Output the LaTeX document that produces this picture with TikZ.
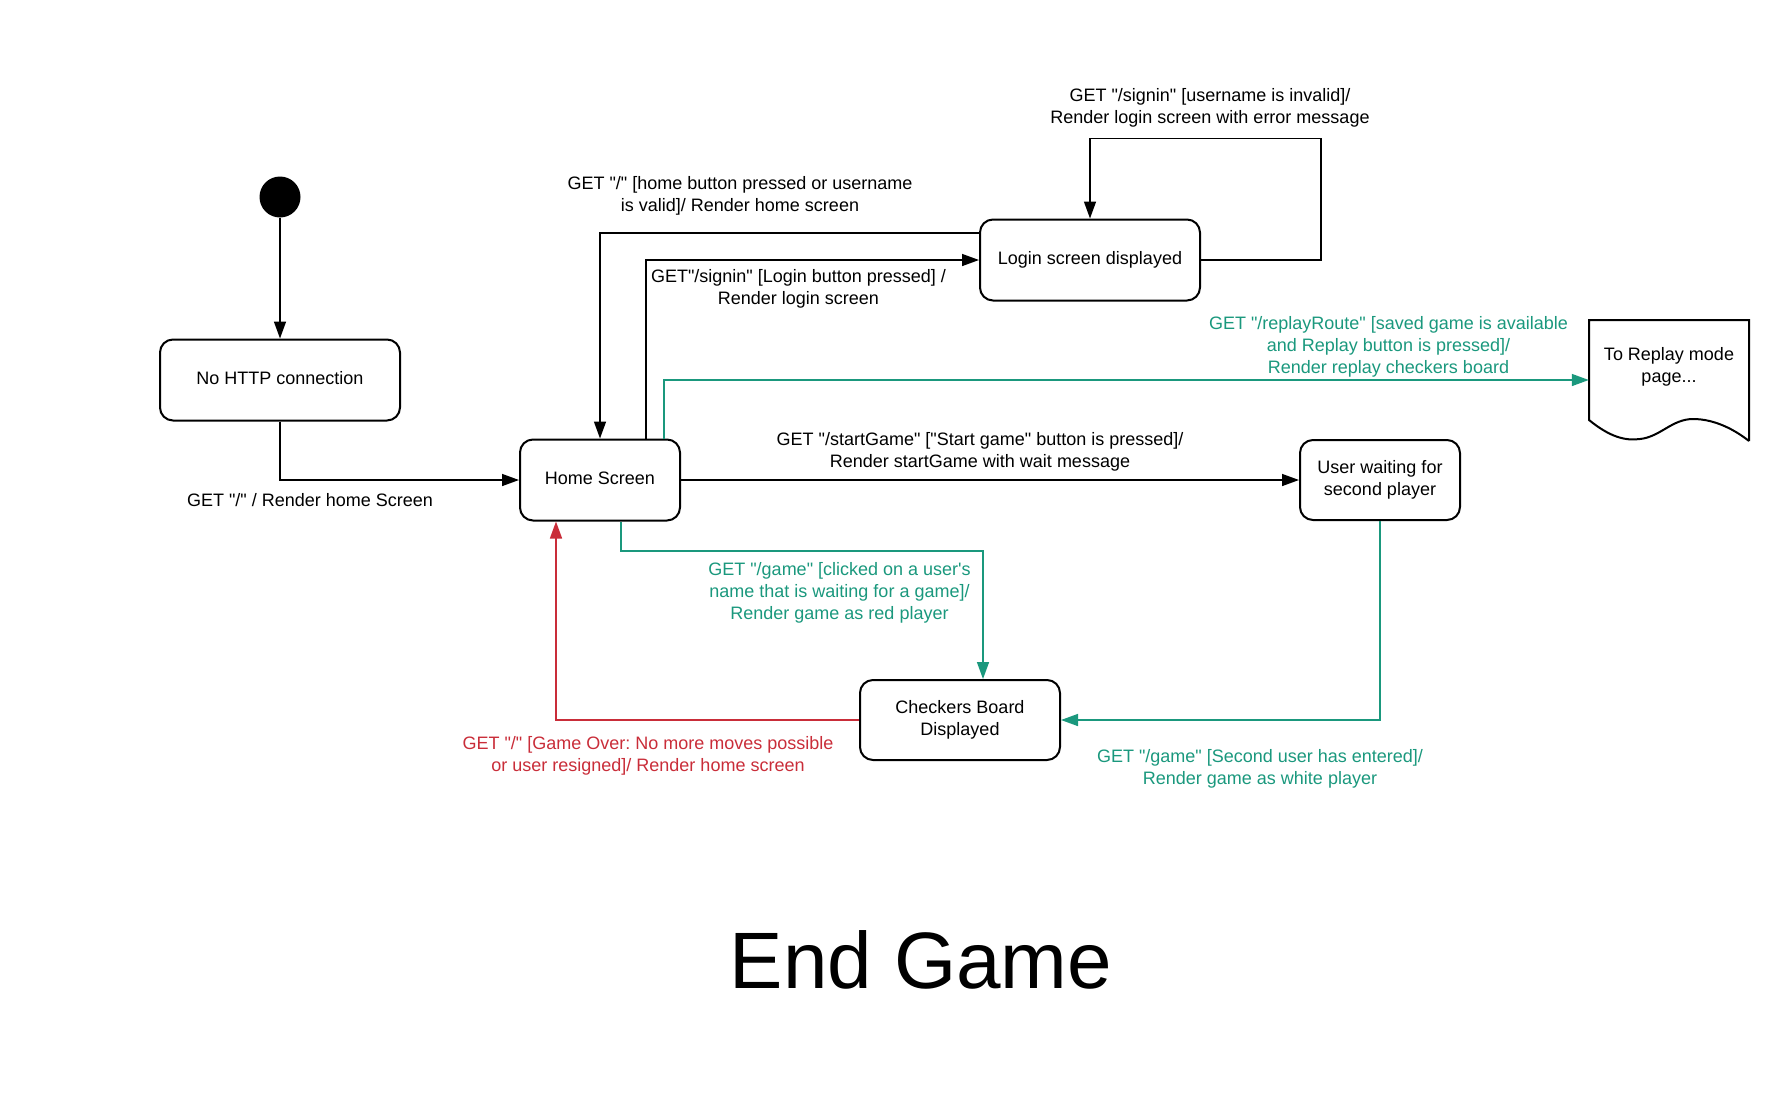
\documentclass[tikz,border=0pt]{standalone}
\usepackage{fontspec}
\setmainfont{Liberation Sans}[Ligatures=TeXOff]
\usetikzlibrary{arrows.meta}
\definecolor{lgreen}{RGB}{26,152,125}
\definecolor{lred}{RGB}{201,45,57}
\frenchspacing
\begin{document}
\begin{tikzpicture}[x=1pt,y=-1pt,
  statebox/.style={draw,line width=2pt,rounded corners=13pt,inner sep=0pt,align=center,
     font=\fontsize{18}{21.8}\selectfont},
  lbl/.style={inner sep=0pt,align=center,font=\fontsize{18}{21.8}\selectfont},
  conn/.style={line width=1.5pt,-{Triangle[length=17pt,width=12pt]}},
  gconn/.style={conn,draw=lgreen},
  rconn/.style={conn,draw=lred}]
\useasboundingbox (0,0) rectangle (1789,1104);
% start
\node[circle,fill=black,minimum size=41pt,inner sep=0pt] (start) at (280,197) {};
% states
\node[statebox,minimum width=240pt,minimum height=81pt,text depth=4pt] (nohttp) at (280,380) {No HTTP connection};
\node[statebox,minimum width=160pt,minimum height=81pt,text depth=4pt] (home) at (600,480) {Home Screen};
\node[statebox,minimum width=220pt,minimum height=81pt] (login) at (1090,260) {Login screen displayed};
\node[statebox,minimum width=160pt,minimum height=80pt] (user) at (1380,480) {User waiting for\\second player};
\node[statebox,minimum width=200pt,minimum height=80pt] (checkers) at (960,720) {Checkers Board\\Displayed};
% document shape
\node[inner sep=0pt,minimum width=160pt,minimum height=120pt] (doc) at (1669,380) {};
\draw[line width=2pt,line join=miter] (1749,441) -- (1749,320) -- (1589,320) -- (1589,420)
  .. controls (1610,437) and (1625,441) .. (1640,439)
  .. controls (1660,437) and (1672,419) .. (1693,419)
  .. controls (1715,419) and (1735,430) .. (1749,441);
\node[lbl] (doctext) at (1669,367) {To Replay mode\\page...};
% connectors
\draw[conn] (start) -- (nohttp);
\draw[conn] (nohttp) |- (home);
\draw[conn] ([yshift=27pt]login.west) -| (home.north);
\draw[conn] ([xshift=46pt]home.north) |- (login.west);
\draw[conn] (login.east) -- ++(120,0) |- ([yshift=80pt]login.north) -- (login.north);
\draw[gconn] ([xshift=64pt]home.north) |- (doc.west);
\draw[conn] (home.east) -- (user.west);
\draw[gconn] ([xshift=21pt]home.south) -- ++(0,29.5) -| ([xshift=23pt]checkers.north);
\draw[gconn] (user.south) |- (checkers.east);
\draw[rconn] (checkers.west) -| ([xshift=-44pt]home.south);
% labels
\node[lbl] (l1) at (1210,108) {GET "/signin" [username is invalid]/\\Render login screen with error message};
\node[lbl] (l2) at (740,196) {GET "/" [home button pressed or username\\is valid]/ Render home screen};
\node[lbl] (l3) at (798.5,289) {GET"/signin" [Login button pressed] /\\Render login screen};
\node[lbl,text=lgreen] (l4) at (1388.5,347) {GET "/replayRoute" [saved game is available\\and Replay button is pressed]/\\Render replay checkers board};
\node[lbl] (l5) at (980,452) {GET "/startGame" ["Start game" button is pressed]/\\Render startGame with wait message};
\node[lbl] (l6) at (310,500) {GET "/" / Render home Screen};
\node[lbl,text=lgreen] (l7) at (839.5,593) {GET "/game" [clicked on a user's\\name that is waiting for a game]/\\Render game as red player};
\node[lbl,text=lred] (l8) at (648,756) {GET "/" [Game Over: No more moves possible\\or user resigned]/ Render home screen};
\node[lbl,text=lgreen] (l9) at (1260,769) {GET "/game" [Second user has entered]/\\Render game as white player};
\node[inner sep=0pt,anchor=base,font=\fontsize{80}{82}\selectfont] (title) at (921,988) {End Game};
\end{tikzpicture}
\end{document}
